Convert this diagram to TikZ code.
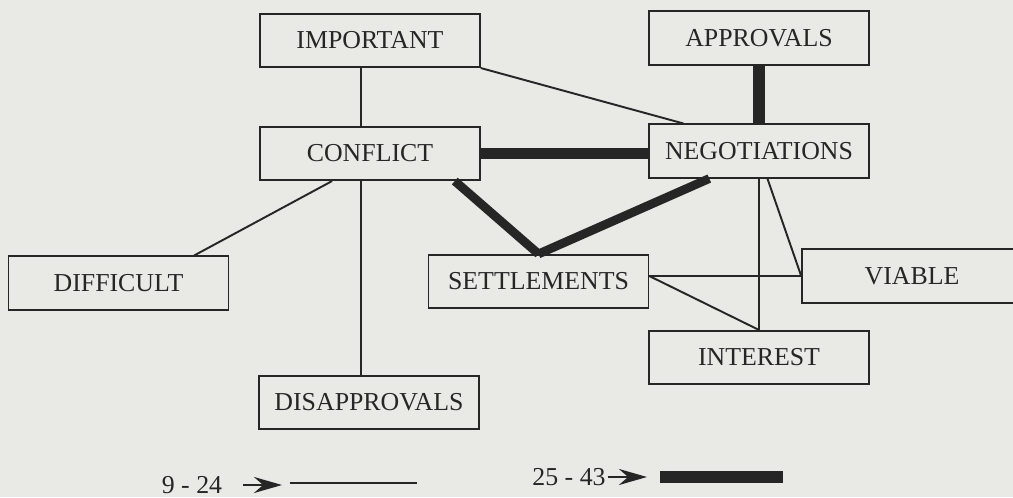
\documentclass[tikz,border=0pt]{standalone}
\usepackage{fontspec}
\setmainfont{Liberation Serif}
\usetikzlibrary{arrows.meta}
\definecolor{paper}{RGB}{233,233,230}
\definecolor{ink}{RGB}{38,38,38}

\begin{document}
\begin{tikzpicture}[scale=0.2]
    \tikzstyle{every node}+=[inner sep=0pt]
    \tikzstyle{box}=[draw=ink, line width=0.9pt, minimum width=4.4cm, minimum height=1.07cm, text=ink, font=\fontsize{14.7}{16}\selectfont]
    \tikzstyle{key}=[text=ink, font=\fontsize{14.7}{16}\selectfont]
    \tikzstyle{weak}=[ink, line width=1.1pt]
    \tikzstyle{strong}=[ink, line width=6.6pt]
    \tikzstyle{pointer}=[ink, line width=1.6pt, -{Stealth[length=0.56cm,width=0.32cm]}]
    \clip (0,0) rectangle (101.3,-49.7);
    \fill [paper] (0,0) rectangle (101.3,-49.7);
    \node [box] (imp) at (37,-4.05) {IMPORTANT};
    \node [box] (con) at (37,-15.35) {CONFLICT};
    \node [box] (apr) at (75.9,-3.8) {APPROVALS};
    \node [box] (neg) at (75.9,-15.1) {NEGOTIATIONS};
    \node [box] (dif) at (11.85,-28.3) {DIFFICULT};
    \node [box] (set) at (53.85,-28.15) {SETTLEMENTS};
    \node [box] (via) at (91.2,-27.6) {VIABLE};
    \node [box] (int) at (75.9,-35.75) {INTEREST};
    \node [box] (dis) at (36.9,-40.25) {DISAPPROVALS};
    \coordinate (spine) at (36.1,0);
    \draw [weak] (imp.south -| spine) -- (con.north -| spine);
    \draw [weak] (con.south -| spine) -- (dis.north -| spine);
    \draw [weak] (imp.south east) -- (neg.160);
    \draw [weak] (con.216) -- (dif.20);
    \draw [strong] (apr.south) -- (neg.north);
    \draw [strong] (con.east) -- (con.east -| neg.west);
    \draw [strong, line width=5pt] (con.-18) -- (set.north);
    \draw [strong, line width=5pt] (neg.209) -- (set.north);
    \draw [weak] (via.west -| set.east) -- (via.west);
    \draw [weak] (via.west -| set.east) -- (int.north);
    \draw [weak] (neg.south) -- (int.north);
    \draw [weak] (neg.-73) -- (via.west);
    % legend
    \node [key] (lo) at (19.2,-48.5) {9 - 24};
    \coordinate (loA) at (24.3,-48.5);
    \coordinate (loB) at (28.2,-48.5);
    \coordinate (loC) at (29,-48.3);
    \coordinate (loD) at (41.7,-48.3);
    \draw [pointer] (loA) -- (loB);
    \draw [weak] (loC) -- (loD);
    \node [key] (hi) at (56.9,-47.7) {25 - 43};
    \coordinate (hiA) at (60.8,-47.7);
    \coordinate (hiB) at (64.7,-47.7);
    \coordinate (hiC) at (66,-47.7);
    \coordinate (hiD) at (78.3,-47.7);
    \draw [pointer] (hiA) -- (hiB);
    \draw [strong, line width=6.8pt] (hiC) -- (hiD);
\end{tikzpicture}
\end{document}
